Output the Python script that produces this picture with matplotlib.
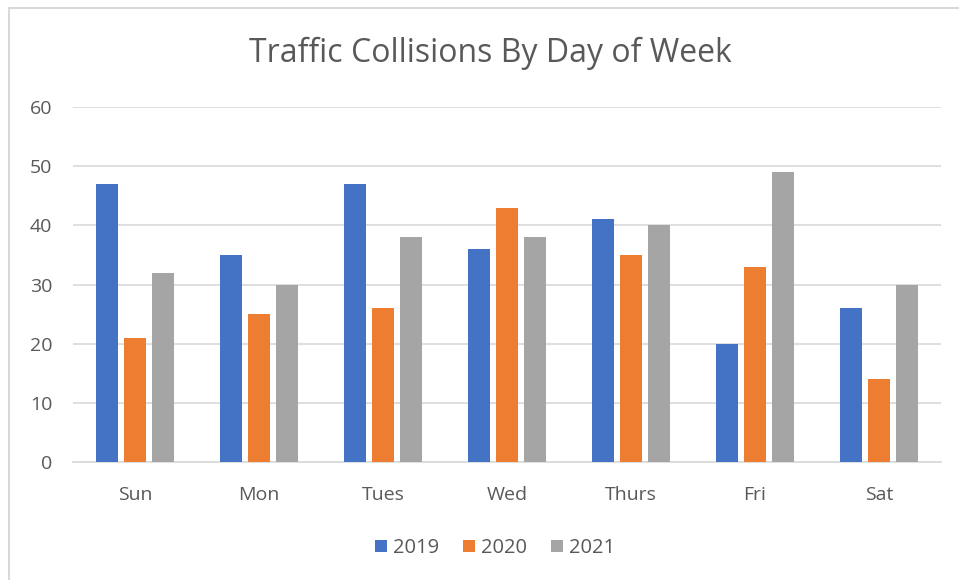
import matplotlib
matplotlib.use("Agg")
import matplotlib.pyplot as plt
from matplotlib.patches import Rectangle
import numpy as np

days = ["Sun", "Mon", "Tues", "Wed", "Thurs", "Fri", "Sat"]
y2019 = [47, 35, 47, 36, 41, 20, 26]
y2020 = [21, 25, 26, 43, 35, 33, 14]
y2021 = [32, 30, 38, 38, 40, 49, 30]

plt.rcParams['font.family'] = ['Open Sans', 'DejaVu Sans']
text_col = "#595959"

W, H = 959, 580
fig = plt.figure(figsize=(W / 100, H / 100), dpi=100)
ax = fig.add_axes([73 / W, 1 - 462 / H, (941 - 73) / W, (462 - 107) / H])

# chart border
fig.patches.append(Rectangle((9 / W, -0.05), 1.2, 1 - 8 / H + 0.05, transform=fig.transFigure,
                             fill=False, edgecolor="#d9d9d9", linewidth=1.5))

x = np.arange(len(days))
w = 0.18
step = 0.225
series = [("2019", y2019, "#4472c4"), ("2020", y2020, "#ed7d31"), ("2021", y2021, "#a5a5a5")]
for i, (lab, vals, col) in enumerate(series):
    ax.bar(x + (i - 1) * step, vals, w, color=col, label=lab, zorder=3)

ax.set_xlim(-0.5, len(days) - 0.5)
ax.set_ylim(0, 60)
ax.set_yticks(range(0, 61, 10))
ax.set_xticks(x)
ax.set_xticklabels(days)
ax.grid(axis="y", color="#d9d9d9", linewidth=1.2, zorder=0)
for s in ["top", "right", "left"]:
    ax.spines[s].set_visible(False)
ax.spines["bottom"].set_color("#d9d9d9")
ax.spines["bottom"].set_linewidth(1.2)
ax.tick_params(axis="both", length=0, labelsize=14, colors=text_col)
ax.tick_params(axis="x", pad=17.5)
ax.tick_params(axis="y", pad=15)

fig.text(490 / W, 1 - 53 / H, "Traffic Collisions By Day of Week", ha="center", va="center",
         fontsize=23, color=text_col)

fig.legend(loc="center", bbox_to_anchor=(495 / W, 1 - 548 / H), ncol=3, frameon=False,
           fontsize=14.5, labelcolor=text_col, handlelength=0.6, handleheight=0.6,
           handletextpad=0.3, columnspacing=1.2)

fig.savefig("out.png", dpi=100)
